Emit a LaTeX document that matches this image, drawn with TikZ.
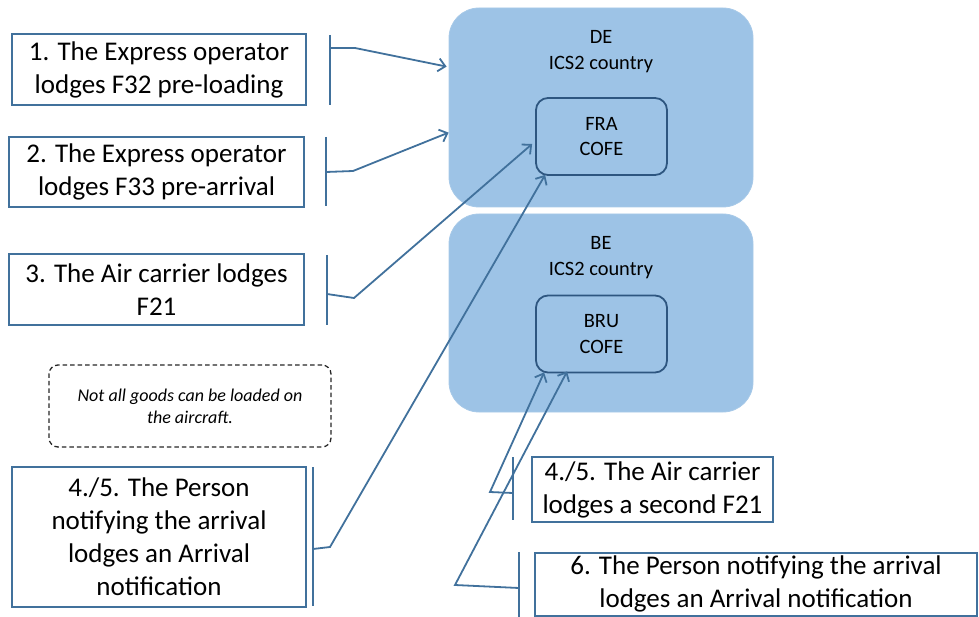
\documentclass[tikz,border=0pt]{standalone}
\usepackage{fontspec}
\setmainfont{Carlito}
\usetikzlibrary{arrows.meta}
\definecolor{edge}{HTML}{41719C}
\definecolor{zone}{HTML}{9DC3E6}
\definecolor{inner}{HTML}{2E5680}
\tikzset{
  stepbox/.style={draw=edge, line width=2pt, fill=white, inner sep=0pt, align=center,
     font=\fontsize{27}{33}\selectfont},
  zonebox/.style={fill=zone, draw=zone!90!white, line width=0.8pt, rounded corners=30pt, inner sep=0pt},
  cofebox/.style={draw=inner, line width=1.8pt, rounded corners=12pt, inner sep=0pt, align=center,
     minimum width=131pt, minimum height=77pt, font=\fontsize{20.4}{25.5}\selectfont},
  zonelabel/.style={align=center, font=\fontsize{20.4}{26}\selectfont, inner sep=0pt},
  bracket/.style={draw=edge, line width=1.8pt},
  conn/.style={draw=edge, line width=1.8pt, -{Straight Barb[length=7pt,width=13pt,line width=1.8pt]}},
  notebox/.style={draw=black!85, dash pattern=on 4.5pt off 3pt, line width=1.3pt, rounded corners=9pt, inner sep=0pt, align=center,
     font=\fontsize{18}{22}\selectfont\itshape}
}
\begin{document}
\begin{tikzpicture}[x=1pt,y=-1pt]
\useasboundingbox (0,0) rectangle (979,617);
% zones
\node[zonebox, minimum width=304pt, minimum height=199pt] (de) at (601,107.5) {};
\node[zonebox, minimum width=304pt, minimum height=198pt] (be) at (601,313) {};
\node[zonelabel] (delabel) at (601,52) {DE\\ICS2 country};
\node[zonelabel] (belabel) at (601,258) {BE\\ICS2 country};
\node[cofebox] (fra) at (601.5,136.5) {FRA\\COFE};
\node[cofebox] (bru) at (601.5,334) {BRU\\COFE};
% step boxes
\node[stepbox, minimum width=294pt, minimum height=71pt] (s1) at (159,69.5) {1. The Express operator\\lodges F32 pre-loading};
\node[stepbox, minimum width=295pt, minimum height=70pt] (s2) at (156.5,172) {2. The Express operator\\lodges F33 pre-arrival};
\node[stepbox, minimum width=295pt, minimum height=71pt] (s3) at (156.5,289.5) {3. The Air carrier lodges\\F21};
\node[notebox, minimum width=282pt, minimum height=82pt] (note) at (190,406) {Not all goods can be loaded on\\the aircraft.};
\node[stepbox, minimum width=294pt, minimum height=140pt] (s45a) at (159,537) {4./5. The Person\\notifying the arrival\\lodges an Arrival\\notification};
\node[stepbox, minimum width=241pt, minimum height=65pt] (s45b) at (652.5,489.5) {4./5. The Air carrier\\lodges a second F21};
\node[stepbox, minimum width=442pt, minimum height=63pt] (s6) at (756,584) {6. The Person notifying the arrival\\lodges an Arrival notification};
% brackets
\draw[bracket] (330,35) -- (330,105);
\draw[bracket] (326,137) -- (326,206);
\draw[bracket] (327,255) -- (327,325);
\draw[bracket] (313,467) -- (313,606);
\draw[bracket] (513,457) -- (513,520);
\draw[bracket] (519,552) -- (519,617);
\coordinate (k1) at (330,48);
\coordinate (k2) at (326,172);
\coordinate (k3) at (327,294);
\coordinate (k45a) at (313,549);
\coordinate (k45b) at (513,493);
\coordinate (k6) at (519,588);
% connectors
\draw[conn] (k1) -- (355,48) -- ([yshift=-59pt,xshift=-2pt]de.north west);
\draw[conn] (k2) -- (353,171) -- ([yshift=-125pt]de.north west);
\draw[conn] (k3) -- (354,298) -- ([yshift=-7.5pt,xshift=-3pt]fra.west);
\draw[conn] (k45a) -- (330,547) -- ([xshift=10pt,yshift=1pt]fra.south west);
\draw[conn] (k45b) -- (490,492) -- ([xshift=9pt,yshift=1pt]bru.south west);
\draw[conn] (k6) -- (455,585) -- ([xshift=32pt,yshift=2pt]bru.south west);
\end{tikzpicture}
\end{document}
